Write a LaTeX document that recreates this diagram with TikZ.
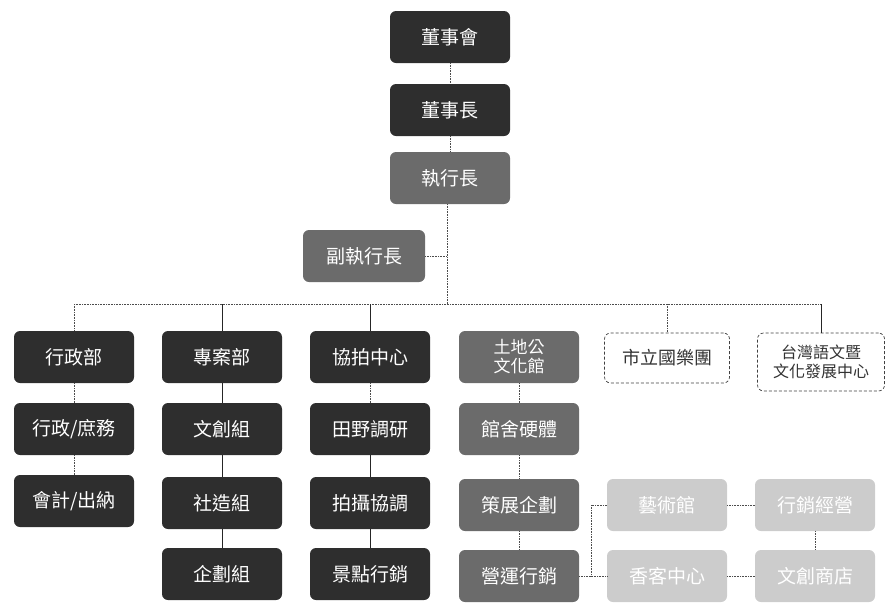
\documentclass[tikz,border=0pt]{standalone}
\usepackage{fontspec}
\setmainfont{Noto Sans CJK TC}
\begin{document}
\begin{tikzpicture}[x=1pt,y=-1pt,
  box/.style={rounded corners=6pt, minimum width=120pt, minimum height=52pt, inner sep=2pt,
    align=center, font=\fontsize{19}{21}\selectfont, text=white},
  dark/.style={box, fill=black!82},
  mid/.style={box, fill=black!58},
  light/.style={box, fill=black!20, text=white},
  open/.style={box, draw=black!75, densely dashed, line width=0.7pt, text=black!80, fill=white},
  link/.style={black!70, line width=0.6pt, densely dotted},
  slink/.style={black!85, line width=0.7pt}]
\useasboundingbox (0,0) rectangle (886,603);

\node[dark] (bod) at (450,37) {董事會};
\node[dark] (chair) at (450,110) {董事長};
\node[mid] (ceo) at (450,178) {執行長};
\node[mid, minimum width=122pt] (vice) at (364,256) {副執行長};

\node[dark] (admin) at (74,357) {行政部};
\node[dark] (adm1) at (74,429) {行政/庶務};
\node[dark] (adm2) at (74,501) {會計/出納};

\node[dark] (proj) at (222,357) {專案部};
\node[dark] (p1) at (222,429) {文創組};
\node[dark] (p2) at (222,503) {社造組};
\node[dark] (p3) at (222,574) {企劃組};

\node[dark] (film) at (370,357) {協拍中心};
\node[dark] (f1) at (370,429) {田野調研};
\node[dark] (f2) at (370,503) {拍攝協調};
\node[dark] (f3) at (370,574) {景點行銷};

\node[mid, font=\fontsize{17}{19}\selectfont] (land) at (519,357) {土地公\\文化館};
\node[mid] (l1) at (519,429) {館舍硬體};
\node[mid] (l2) at (519,505) {策展企劃};
\node[mid] (l3) at (519,576) {營運行銷};

\node[open, minimum width=125pt, minimum height=50pt, font=\fontsize{18}{20}\selectfont] (orch) at (667,358) {市立國樂團};
\node[open, minimum width=127pt, minimum height=58pt, font=\fontsize{16}{19}\selectfont] (lang) at (821,362) {台灣語文暨\\文化發展中心};

\node[light] (a1) at (667,505) {藝術館};
\node[light] (a2) at (815,505) {行銷經營};
\node[light] (a3) at (667,576) {香客中心};
\node[light] (a4) at (815,576) {文創商店};

% top chain
\draw[link] (bod) -- (chair);
\draw[link] (chair) -- (ceo);
\coordinate (trunk) at (447,304);
\draw[link] (ceo.south -| trunk) -- (trunk);
\draw[link] (vice.east) -- (vice.east -| trunk);
% bus
\coordinate (busL) at (74,304);
\coordinate (busR) at (821,304);
\draw[link] (busL) -- (busR);
\draw[link] (busL) -- (admin);
\draw[slink] (proj.north |- busL) -- (proj);
\draw[slink] (film.north |- busL) -- (film);
\draw[link] (orch.north |- busL) -- (orch);
\draw[slink] (busR) -- (lang);
% columns
\draw[link] (admin) -- (adm1);
\draw[link] (adm1) -- (adm2);
\draw[slink] (proj) -- (p1);
\draw[slink] (p1) -- (p2);
\draw[slink] (p2) -- (p3);
\draw[link] (film) -- (f1);
\draw[slink] (f1) -- (f2);
\draw[slink] (f2) -- (f3);
\draw[link] (land) -- (l1);
\draw[link] (l1) -- (l2);
\draw[link] (l2) -- (l3);
% bracket to light boxes
\coordinate (brT) at (591,505);
\coordinate (brB) at (591,576);
\draw[link] (a1.west) -- (brT) -- (brB) -- (a3.west);
\draw[link] (l3.east) -- (brB);
\draw[link] (a1) -- (a2);
\draw[link] (a2) -- (a4);
\draw[link] (a3) -- (a4);
\end{tikzpicture}
\end{document}
